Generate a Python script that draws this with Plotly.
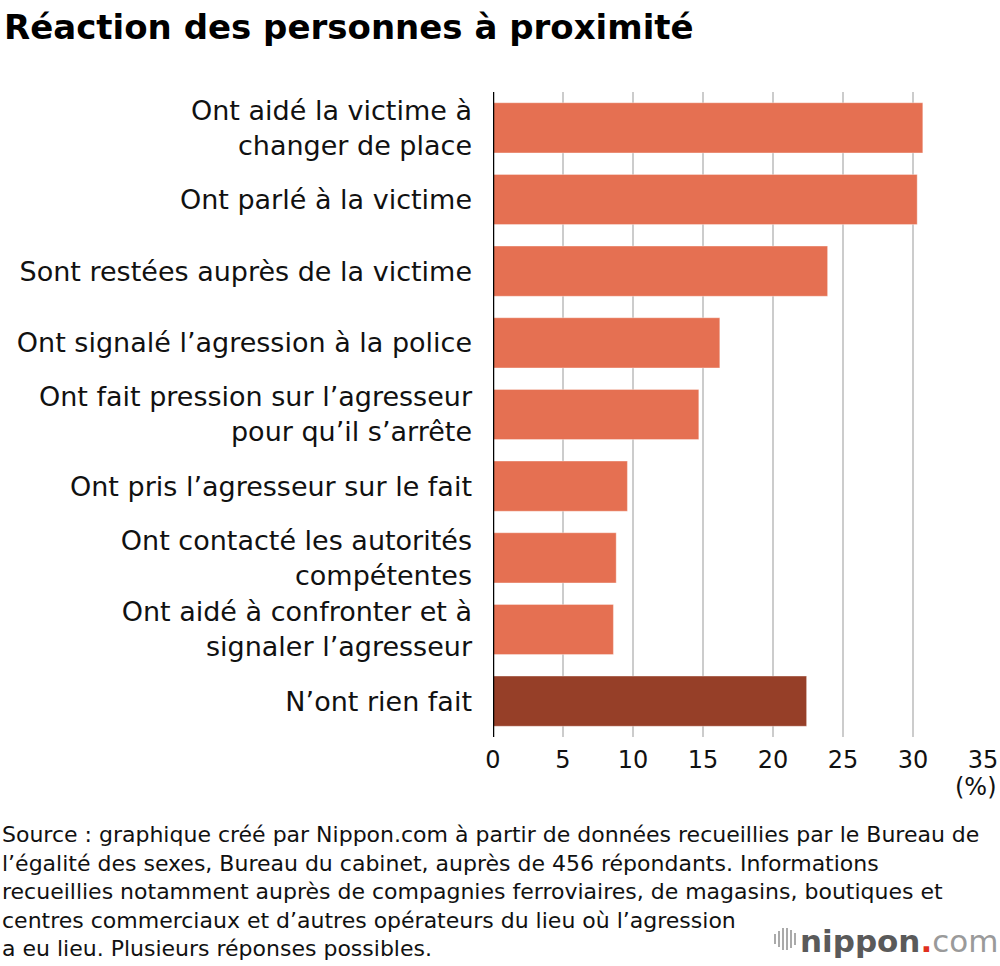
import plotly.graph_objects as go

categories = [
    "Ont aidé la victime à<br>changer de place",
    "Ont parlé à la victime",
    "Sont restées auprès de la victime",
    "Ont signalé l’agression à la police",
    "Ont fait pression sur l’agresseur<br>pour qu’il s’arrête",
    "Ont pris l’agresseur sur le fait",
    "Ont contacté les autorités<br>compétentes",
    "Ont aidé à confronter et à<br>signaler l’agresseur",
    "N’ont rien fait",
]
values = [30.7, 30.3, 23.9, 16.2, 14.7, 9.6, 8.8, 8.6, 22.4]
bar_colors = ["#E57052"] * 8 + ["#963F28"]
x_ticks = [0, 5, 10, 15, 20, 25, 30, 35]

FONT = "DejaVu Sans"

# plot area in pixels
L, R, T, B = 493, 983, 92, 737
W, H = R - L, B - T


def px(x):
    return (x - L) / W


def py(y):
    return (B - y) / H


fig = go.Figure(go.Bar(
    y=categories, x=values, orientation="h",
    marker=dict(color=bar_colors, line=dict(color="rgba(255,255,255,0.35)", width=1)),
    width=0.70, hoverinfo="x+y",
))

fig.update_layout(
    width=1000, height=966, autosize=False,
    margin=dict(l=L, r=1000 - R, t=T, b=966 - B, pad=0, autoexpand=False),
    paper_bgcolor="white", plot_bgcolor="white",
    showlegend=False,
    font=dict(family=FONT, color="#111111"),
    title=dict(text="<b>Réaction des personnes à proximité</b>", x=0.004, xanchor="left",
               y=1 - 27 / 966, yanchor="middle", font=dict(size=34, family=FONT, color="#000000")),
)

fig.update_xaxes(
    range=[0, 35], tickvals=x_ticks, ticktext=[str(v) for v in x_ticks],
    showgrid=True, gridcolor="#cccccc", gridwidth=2,
    zeroline=False, showline=False, ticks="", automargin=False,
    tickfont=dict(size=24, family=FONT, color="#111111"),
    ticklabelstandoff=6,
)
fig.update_yaxes(
    autorange="reversed", categoryorder="array", categoryarray=categories,
    showgrid=False, zeroline=False, showline=False, ticks="", automargin=False,
    tickfont=dict(size=27, family=FONT, color="#111111"),
    ticklabelstandoff=20,
)

# axis line at x=0
fig.add_shape(type="line", xref="x", yref="paper", x0=0, x1=0, y0=0, y1=1,
              line=dict(color="#000000", width=2.5))

fig.add_annotation(text="(%)", xref="paper", yref="paper", x=px(999), y=py(787),
                   xanchor="right", yanchor="middle", showarrow=False,
                   font=dict(size=24, family=FONT, color="#111111"))

source = ("Source : graphique créé par Nippon.com à partir de données recueillies par le Bureau de<br>"
          "l’égalité des sexes, Bureau du cabinet, auprès de 456 répondants. Informations<br>"
          "recueillies notamment auprès de compagnies ferroviaires, de magasins, boutiques et<br>"
          "centres commerciaux et d’autres opérateurs du lieu où l’agression<br>"
          "a eu lieu. Plusieurs réponses possibles.")
fig.add_annotation(text=source, xref="paper", yref="paper", x=px(0), y=py(820),
                   xanchor="left", yanchor="top", align="left", showarrow=False,
                   font=dict(size=22, family=FONT, color="#111111"))

fig.add_annotation(
    text="<b>nippon</b><span style='color:#E0301E'><b>.</b></span><span style='color:#9a9a9a'>com</span>",
    xref="paper", yref="paper", x=px(1000), y=py(941), xanchor="right", yanchor="middle",
    showarrow=False, font=dict(size=31, family=FONT, color="#5a5a5a"))

# logo icon bars
for dx, h in [(0, 5), (4, 8), (8, 11), (12, 11), (16, 9), (20, 6)]:
    xx = 775 + dx
    yc = 939
    fig.add_shape(type="line", xref="paper", yref="paper",
                  x0=px(xx), x1=px(xx), y0=py(yc + h), y1=py(yc - h),
                  line=dict(color="#aaaaaa", width=2))

fig.write_html("out.html", config={"displayModeBar": False},
               post_script="document.body.style.margin='0';document.body.style.padding='0';")
